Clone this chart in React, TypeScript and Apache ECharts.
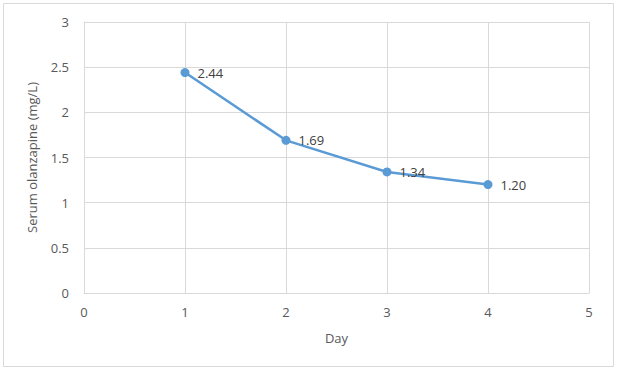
import React, { useEffect, useRef } from "react";
import * as echarts from "echarts";

const days = [1, 2, 3, 4];
const serum = [2.44, 1.69, 1.34, 1.2];
const yAxisName = "Serum olanzapine (mg/L)";
const xAxisName = "Day";

export default function App() {
  const ref = useRef<HTMLDivElement>(null);
  useEffect(() => {
    if (!ref.current) return;
    const chart = echarts.init(ref.current, undefined, { renderer: "svg" });
    const font = "'Open Sans', 'Liberation Sans', sans-serif";
    chart.setOption({
      animation: false,
      backgroundColor: "#ffffff",
      graphic: [
        {
          type: "rect",
          shape: { x: 3.5, y: 3.5, width: 610, height: 363 },
          style: { fill: "none", stroke: "#d9d9d9", lineWidth: 1 },
          silent: true,
        },
      ],
      grid: { left: 84, right: 28, top: 22, bottom: 80 },
      xAxis: {
        type: "value",
        min: 0,
        max: 5,
        interval: 1,
        name: xAxisName,
        nameLocation: "middle",
        nameGap: 38,
        nameTextStyle: { color: "#595959", fontSize: 13, fontFamily: font },
        axisLine: { show: true, lineStyle: { color: "#d9d9d9", width: 1 } },
        axisTick: { show: false },
        axisLabel: { color: "#595959", fontSize: 13, fontFamily: font, margin: 12 },
        splitLine: { show: true, lineStyle: { color: "#d9d9d9", width: 1 } },
      },
      yAxis: {
        type: "value",
        min: 0,
        max: 3,
        interval: 0.5,
        name: yAxisName,
        nameLocation: "middle",
        nameGap: 46,
        nameRotate: 90,
        nameTextStyle: { color: "#595959", fontSize: 13, fontFamily: font },
        axisLine: { show: true, lineStyle: { color: "#d9d9d9", width: 1 } },
        axisTick: { show: false },
        axisLabel: { color: "#595959", fontSize: 13, fontFamily: font, margin: 15 },
        splitLine: { show: true, lineStyle: { color: "#d9d9d9", width: 1 } },
      },
      series: [
        {
          type: "line",
          data: days.map((d, i) => [d, serum[i]]),
          symbol: "circle",
          symbolSize: 9,
          lineStyle: { color: "#5b9bd5", width: 2.5 },
          itemStyle: { color: "#5b9bd5" },
          label: {
            show: true,
            position: "right",
            distance: 8,
            color: "#404040",
            fontSize: 13,
            fontFamily: font,
            formatter: (p: any) => p.value[1].toFixed(2),
          },
        },
      ],
    });
    return () => chart.dispose();
  }, []);
  return (
    <div
      ref={ref}
      style={{ position: "fixed", left: 0, top: 0, width: 617, height: 373 }}
    />
  );
}
